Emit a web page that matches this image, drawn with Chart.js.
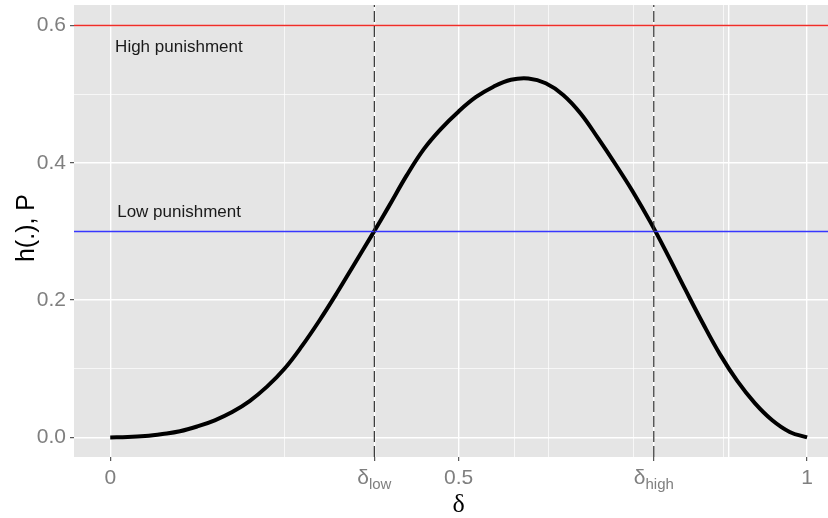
<!DOCTYPE html>
<html>
<head>
<meta charset="utf-8">
<script src="https://cdn.jsdelivr.net/npm/chart.js@4"></script>
<style>
  body { margin: 0; background: #fff; }
  canvas { display: block; }
</style>
</head>
<body>
<canvas id="chart" width="828" height="518"></canvas>
<script>
// curve h(delta), read every 0.025
const delta = [0, 0.025, 0.05, 0.075, 0.10, 0.125, 0.15, 0.175, 0.20, 0.225,
               0.25, 0.275, 0.30, 0.325, 0.35, 0.375, 0.40, 0.425, 0.45, 0.475,
               0.50, 0.525, 0.55, 0.575, 0.60, 0.625, 0.65, 0.675, 0.70, 0.725,
               0.75, 0.775, 0.80, 0.825, 0.85, 0.875, 0.90, 0.925, 0.95, 0.975, 1.0];
const hVals = [0, 0.0005, 0.002, 0.005, 0.009, 0.016, 0.025, 0.037, 0.053, 0.074,
               0.100, 0.133, 0.170, 0.210, 0.252, 0.294, 0.337, 0.381, 0.420, 0.450,
               0.475, 0.496, 0.511, 0.521, 0.523, 0.516, 0.499, 0.472, 0.436, 0.398,
               0.358, 0.314, 0.266, 0.216, 0.167, 0.121, 0.082, 0.050, 0.025, 0.008, 0];

// punishment levels and thresholds
const highP = 0.6;
const lowP = 0.3;
const dLow = 0.379;
const dHigh = 0.780;

// axis ticks
const xTickValues = [0, dLow, 0.5, dHigh, 1];
const xTickText = [['0', ''], ['\u03b4', 'low'], ['0.5', ''], ['\u03b4', 'high'], ['1', '']];
const xMinorGrid = [0.25, 0.58, 0.629, 0.751, 0.88];
const xExtraGrid = [0.888];
const yTickValues = [0, 0.2, 0.4, 0.6];
const yMinorGrid = [0.1, 0.3, 0.5];

const xMin = -0.052, xMax = 1.03;
const yMin = -0.0285, yMax = 0.63;

const sans = '"Liberation Sans", Arial, sans-serif';
const xMajor = xTickValues.concat(xExtraGrid);

// grey panel behind the grid
const panelBg = {
    id: 'panelBg',
    beforeDraw(chart) {
        const { ctx, chartArea: a } = chart;
        ctx.save();
        ctx.fillStyle = '#e5e5e5';
        ctx.fillRect(a.left, a.top, a.right - a.left, a.bottom - a.top);
        ctx.restore();
    }
};

// text labels, x tick labels with subscripts, axis titles
const textLayer = {
    id: 'textLayer',
    afterDraw(chart) {
        const { ctx, scales: { x, y } } = chart;
        ctx.save();

        ctx.fillStyle = '#1a1a1a';
        ctx.font = '17px ' + sans;
        ctx.textAlign = 'left';
        ctx.textBaseline = 'middle';
        ctx.fillText('High punishment', x.getPixelForValue(0.007), y.getPixelForValue(0.569));
        ctx.fillText('Low punishment', x.getPixelForValue(0.010), y.getPixelForValue(0.3285));

        ctx.fillStyle = '#7f7f7f';
        ctx.textBaseline = 'alphabetic';
        xTickValues.forEach((v, i) => {
            const [main, sub] = xTickText[i];
            ctx.font = '21px ' + sans;
            const w1 = ctx.measureText(main).width;
            ctx.font = '15px ' + sans;
            const w2 = sub ? ctx.measureText(sub).width : 0;
            const left = x.getPixelForValue(v) - (w1 + w2) / 2;
            ctx.font = '21px ' + sans;
            ctx.fillText(main, left, 484);
            if (sub) {
                ctx.font = '15px ' + sans;
                ctx.fillText(sub, left + w1, 489);
            }
        });

        ctx.fillStyle = '#000';
        ctx.textAlign = 'center';
        ctx.font = '26px "Liberation Serif", "DejaVu Serif", serif';
        ctx.fillText('\u03b4', x.getPixelForValue(0.5), 512);

        ctx.translate(34, 228);
        ctx.rotate(-Math.PI / 2);
        ctx.font = '25px ' + sans;
        ctx.fillText('h(.), P', 0, 0);
        ctx.restore();
    }
};

const curve = delta.map((d, i) => ({ x: d, y: hVals[i] }));

new Chart(document.getElementById('chart'), {
    type: 'line',
    data: {
        datasets: [
            {
                data: [{ x: dLow, y: yMin }, { x: dLow, y: yMax }],
                borderColor: '#333333',
                borderWidth: 1.2,
                borderDash: [11, 4],
                pointRadius: 0
            },
            {
                data: [{ x: dHigh, y: yMin }, { x: dHigh, y: yMax }],
                borderColor: '#333333',
                borderWidth: 1.2,
                borderDash: [11, 4],
                pointRadius: 0
            },
            {
                data: [{ x: xMin, y: highP }, { x: xMax, y: highP }],
                borderColor: 'rgb(240, 45, 40)',
                borderWidth: 1.5,
                pointRadius: 0
            },
            {
                data: [{ x: xMin, y: lowP }, { x: xMax, y: lowP }],
                borderColor: 'rgb(55, 55, 255)',
                borderWidth: 1.5,
                pointRadius: 0
            },
            {
                data: curve,
                borderColor: '#000000',
                borderWidth: 4,
                tension: 0.4,
                pointRadius: 0
            }
        ]
    },
    options: {
        responsive: false,
        animation: false,
        devicePixelRatio: 1,
        layout: { padding: { top: 5, right: 0, left: 0, bottom: 0 } },
        plugins: { legend: { display: false }, tooltip: { enabled: false } },
        scales: {
            x: {
                type: 'linear',
                min: xMin,
                max: xMax,
                afterBuildTicks: s => {
                    s.ticks = xMajor.concat(xMinorGrid).sort((a, b) => a - b).map(v => ({ value: v }));
                },
                afterFit: s => { s.height = 61; s.paddingLeft = 0; s.paddingRight = 0; },
                border: { display: false },
                grid: {
                    color: '#ffffff',
                    lineWidth: c => xMajor.includes(c.tick.value) ? 1.4 : 0.7,
                    tickColor: c => xTickValues.includes(c.tick.value) ? '#333333' : 'rgba(0,0,0,0)',
                    tickLength: 4,
                    tickWidth: 1
                },
                ticks: { display: false, autoSkip: false }
            },
            y: {
                min: yMin,
                max: yMax,
                afterBuildTicks: s => {
                    s.ticks = yTickValues.concat(yMinorGrid).sort((a, b) => a - b).map(v => ({ value: v }));
                },
                afterFit: s => { s.width = 74; s.paddingTop = 0; s.paddingBottom = 0; },
                border: { display: false },
                grid: {
                    color: '#ffffff',
                    lineWidth: c => yTickValues.includes(c.tick.value) ? 1.4 : 0.7,
                    tickColor: c => yTickValues.includes(c.tick.value) ? '#333333' : 'rgba(0,0,0,0)',
                    tickLength: 4,
                    tickWidth: 1
                },
                ticks: {
                    autoSkip: false,
                    padding: 4,
                    color: '#7f7f7f',
                    font: { family: sans, size: 21 },
                    callback: v => yTickValues.includes(v) ? v.toFixed(1) : ''
                }
            }
        }
    },
    plugins: [panelBg, textLayer]
});
</script>
</body>
</html>
